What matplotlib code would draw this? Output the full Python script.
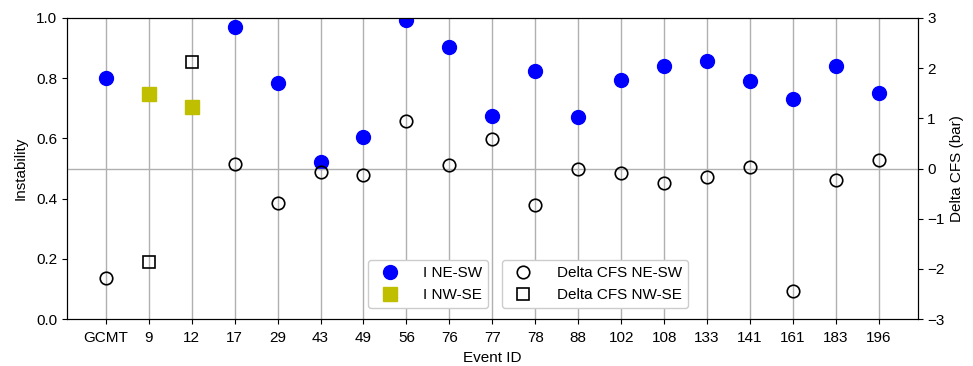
import numpy as np
import matplotlib.pyplot as plt

plt.rcParams["font.family"] = ["Liberation Sans", "DejaVu Sans"]
plt.rcParams["font.size"] = 11

# event ids shown on the x axis
events = ["GCMT", "9", "12", "17", "29", "43", "49", "56", "76", "77",
          "78", "88", "102", "108", "133", "141", "161", "183", "196"]

nan = np.nan
# instability, NE-SW and NW-SE planes
inst_ne = [0.80, nan, nan, 0.97, 0.783, 0.522, 0.605, 0.992, 0.904, 0.676,
           0.825, 0.671, 0.795, 0.841, 0.857, 0.79, 0.73, 0.84, 0.75]
inst_nw = [nan, 0.746, 0.703, nan, nan, nan, nan, nan, nan, nan,
           nan, nan, nan, nan, nan, nan, nan, nan, nan]
# delta CFS (bar)
dcfs_ne = [-2.19, nan, nan, 0.10, -0.68, -0.07, -0.12, 0.95, 0.07, 0.58,
           -0.73, -0.01, -0.09, -0.29, -0.17, 0.03, -2.43, -0.23, 0.18]
dcfs_nw = [nan, -1.87, 2.13, nan, nan, nan, nan, nan, nan, nan,
           nan, nan, nan, nan, nan, nan, nan, nan, nan]

x = np.arange(len(events))

fig, ax = plt.subplots(figsize=(9.73, 3.66), dpi=100)
fig.subplots_adjust(left=0.069, right=0.943, top=0.951, bottom=0.128)

ax.grid(axis="x", color="#b0b0b0", lw=1)
ax.set_axisbelow(True)
l1, = ax.plot(x, inst_ne, "o", color="blue", ms=10, ls="none", label="I NE-SW")
l2, = ax.plot(x, inst_nw, "s", color="#bfbf00", ms=9.5, ls="none", label="I NW-SE")
ax.set_ylim(0, 1)
ax.set_xticks(x)
ax.set_xticklabels(events)
ax.set_ylabel("Instability", labelpad=6)
ax.set_xlabel("Event ID", labelpad=4)
ax.tick_params(axis="x", pad=5)

ax2 = ax.twinx()
ax2.axhline(0, color="#b0b0b0", lw=1, zorder=0)
l3, = ax2.plot(x, dcfs_ne, "o", mfc="none", mec="black", mew=1.2, ms=9,
               ls="none", label="Delta CFS NE-SW")
l4, = ax2.plot(x, dcfs_nw, "s", mfc="none", mec="black", mew=1.2, ms=8.5,
               ls="none", label="Delta CFS NW-SE")
ax2.set_ylim(-3, 3)
ax2.set_ylabel("Delta CFS (bar)")

leg1 = ax2.legend(handles=[l1, l2], loc="lower left", bbox_to_anchor=(0.354, 0.037),
                  borderaxespad=0, handletextpad=1.2, framealpha=1)
ax2.add_artist(leg1)
ax2.legend(handles=[l3, l4], loc="lower left", bbox_to_anchor=(0.511, 0.037),
           borderaxespad=0, handletextpad=1.2, framealpha=1)

fig.savefig("out.png")
